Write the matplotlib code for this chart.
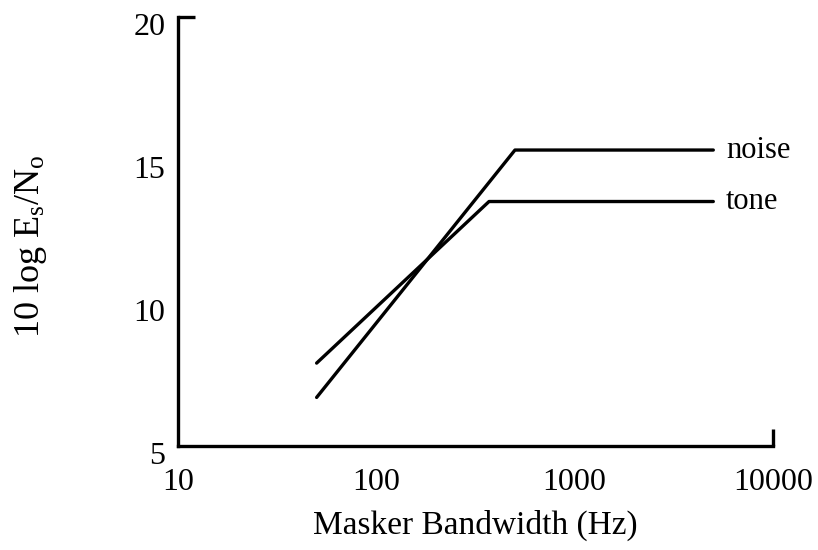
import matplotlib
matplotlib.use('agg')
import matplotlib.pyplot as plt
from matplotlib.transforms import ScaledTranslation

plt.rcParams['font.family'] = ['Liberation Serif', 'DejaVu Serif']
plt.rcParams['mathtext.fontset'] = 'custom'
plt.rcParams['mathtext.rm'] = 'Liberation Serif'
plt.rcParams['mathtext.it'] = 'Liberation Serif:italic'

# masker bandwidth (Hz) vs. threshold, piecewise fits
noise_bw = [50, 500, 5000]
noise_db = [6.7, 15.35, 15.35]
tone_bw = [50, 370, 5000]
tone_db = [7.9, 13.55, 13.55]

xticks = [10, 100, 1000, 10000]
yticks = [5, 10, 15, 20]

fig = plt.figure(figsize=(8.18, 5.5), dpi=100)
ax = fig.add_axes([0.2176, 0.189, 0.7274, 0.780])

ax.plot(noise_bw, noise_db, color='black', lw=2.4, solid_capstyle='round')
ax.plot(tone_bw, tone_db, color='black', lw=2.4, solid_capstyle='round')

ax.text(5800, noise_db[-1], 'noise', fontsize=22, va='center', ha='left')
ax.text(5800, tone_db[-1], 'tone', fontsize=22, va='center', ha='left')

ax.set_xscale('log')
ax.set_xlim(10, 10000)
ax.set_ylim(5, 20)
ax.set_xticks(xticks)
ax.set_xticklabels([str(t) for t in xticks])
ax.set_yticks(yticks)
ax.set_yticklabels([str(t) for t in yticks])

# small inward hooks at the far ends of both axes
ax.xaxis.remove_overlapping_locs = False
ax.yaxis.remove_overlapping_locs = False
ax.set_xticks([10000], minor=True)
ax.set_yticks([20], minor=True)
ax.xaxis.set_minor_formatter(plt.NullFormatter())
ax.yaxis.set_minor_formatter(plt.NullFormatter())

ax.tick_params(which='major', length=0, labelsize=23)
ax.tick_params(axis='x', which='major', pad=16)
ax.tick_params(axis='y', which='major', pad=9)
ax.tick_params(which='minor', direction='in', length=12, width=2.4)

# y tick labels sit a little below their values
shift = ScaledTranslation(0, -5 / 72, fig.dpi_scale_trans)
for lab in ax.get_yticklabels():
    lab.set_transform(lab.get_transform() + shift)

for side in ('top', 'right'):
    ax.spines[side].set_visible(False)
for side in ('left', 'bottom'):
    ax.spines[side].set_linewidth(2.4)

ax.set_xlabel('Masker Bandwidth (Hz)', fontsize=24, labelpad=9)
ax.set_ylabel(r'10 log E$_\mathrm{s}$/N$_\mathrm{o}$', fontsize=26)
ax.yaxis.set_label_coords(-0.216, 0.465)

fig.savefig('out.png', dpi=100)
